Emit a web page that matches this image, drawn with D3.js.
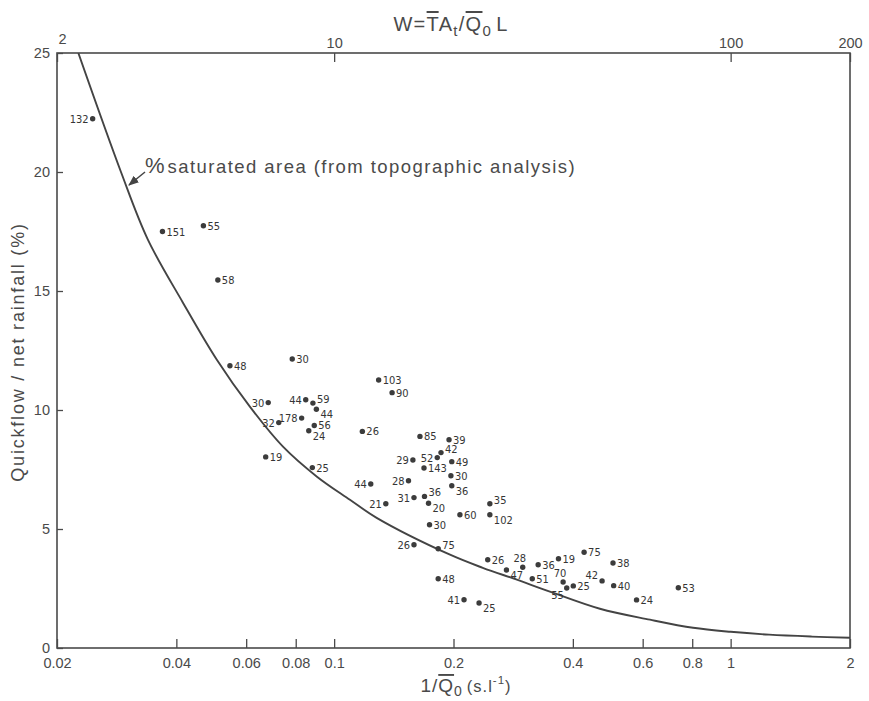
<!DOCTYPE html>
<html>
<head>
<meta charset="utf-8">
<script src="https://cdn.jsdelivr.net/npm/d3@7"></script>
<style>
  html, body { margin: 0; padding: 0; background: #fff; }
  svg { display: block; }
  .num { font-family: "Liberation Sans", Arial, Helvetica, sans-serif; fill: #4a4a4a; }
  .ptlab { font-family: "Liberation Sans Narrow", "DejaVu Sans Condensed", "Liberation Sans", sans-serif; font-stretch: condensed; fill: #353535; font-size: 11px; }
</style>
</head>
<body>
<svg id="chart" width="869" height="701"></svg>
<script>
// Catchment observations: 1/Q0 (s.l^-1), quickflow as % of net rainfall, and the number printed beside each dot
const invQ0 = [0.0246, 0.0369, 0.0468, 0.0509, 0.0546, 0.0784, 0.1295, 0.140, 0.0682, 0.0848,
               0.0884, 0.0902, 0.0828, 0.0725, 0.0891, 0.0863, 0.1178, 0.0672, 0.0881, 0.1646,
               0.1949, 0.186, 0.158, 0.182, 0.198, 0.1685, 0.197, 0.1237, 0.154, 0.198,
               0.135, 0.159, 0.169, 0.173, 0.2076, 0.247, 0.247, 0.174, 0.159, 0.183,
               0.244, 0.299, 0.272, 0.327, 0.316, 0.368, 0.427, 0.505, 0.378, 0.386,
               0.401, 0.474, 0.507, 0.579, 0.738, 0.183, 0.2126, 0.232];
const quickflowPct = [22.24, 17.50, 17.74, 15.46, 11.86, 12.14, 11.26, 10.73, 10.31, 10.43,
                      10.29, 10.03, 9.66, 9.47, 9.35, 9.13, 9.10, 8.03, 7.58, 8.89,
                      8.75, 8.21, 7.90, 8.00, 7.83, 7.56, 7.24, 6.89, 7.03, 6.82,
                      6.06, 6.32, 6.37, 6.08, 5.60, 6.06, 5.60, 5.18, 4.34, 4.17,
                      3.71, 3.39, 3.28, 3.50, 2.91, 3.75, 4.02, 3.57, 2.77, 2.52,
                      2.61, 2.82, 2.62, 2.02, 2.53, 2.91, 2.03, 1.89];
const pointLabels = ["132", "151", "55", "58", "48", "30", "103", "90", "30", "44",
                     "59", "44", "178", "32", "56", "24", "26", "19", "25", "85",
                     "39", "42", "29", "52", "49", "143", "30", "44", "28", "36",
                     "21", "31", "36", "20", "60", "35", "102", "30", "26", "75",
                     "26", "28", "47", "36", "51", "19", "75", "38", "70", "55",
                     "25", "42", "40", "24", "53", "48", "41", "25"];

// Saturated-area curve from topographic analysis
const curveInvQ0 = [0.02264, 0.0290, 0.0339, 0.04156, 0.0506, 0.0613, 0.0743, 0.0905, 0.1096, 0.128,
                    0.196, 0.237, 0.289, 0.350, 0.468, 0.626, 0.804, 1.0, 1.25, 1.6, 2.0];
const curvePct = [25.0, 20.0, 17.16, 14.51, 12.11, 10.14, 8.46, 7.20, 6.23, 5.47,
                  3.92, 3.37, 2.87, 2.37, 1.65, 1.19, 0.85, 0.68, 0.56, 0.48, 0.43];

// Axis ticks
const bottomTicks = [0.02, 0.04, 0.06, 0.08, 0.1, 0.2, 0.4, 0.6, 0.8, 1, 2];
const bottomTickText = ["0.02", "0.04", "0.06", "0.08", "0.1", "0.2", "0.4", "0.6", "0.8", "1", "2"];
const topTicks = [2, 10, 100, 200];
const leftTicks = [0, 5, 10, 15, 20, 25];

// Where each point's number sits relative to its dot
const labelPlacement = ["l", "r", "r", "r", "r", "r", "r", "r", "l", "l",
                        "ru", "rd", "l", "l", "r", "rd", "r", "r", "r", "r",
                        "r", "ru", "l", "l", "r", "r", "r", "l", "l", "rd",
                        "l", "l", "ru", "rd", "r", "ru", "rd", "r", "l", "ru",
                        "r", "a", "rd", "r", "r", "r", "r", "r", "a", "bl",
                        "r", "lu", "r", "r", "r", "r", "l", "rd"];

const svg = d3.select("#chart");
const plotL = 57, plotR = 850, plotT = 53, plotB = 648;
const ink = "#4a4a4a";

const x = d3.scaleLog().domain([0.02, 2]).range([plotL, plotR]);
const w = d3.scaleLog().domain([2, 200]).range([plotL, plotR]);
const y = d3.scaleLinear().domain([0, 25]).range([plotB, plotT]);

// Bottom axis (ticks point into the plot)
const gx = svg.append("g").attr("transform", `translate(0,${plotB})`)
  .call(d3.axisBottom(x).tickValues(bottomTicks)
    .tickFormat((d, i) => bottomTickText[i])
    .tickSizeInner(-9).tickSizeOuter(0).tickPadding(10));
gx.select(".domain").remove();
gx.selectAll(".tick line").attr("stroke", ink).attr("stroke-width", 1.3);
gx.selectAll(".tick text").attr("class", "num").attr("font-size", 14.5);

// Top axis in W units
const gt = svg.append("g").attr("transform", `translate(0,${plotT})`)
  .call(d3.axisTop(w).tickValues(topTicks).tickFormat(d3.format("d"))
    .tickSizeInner(-9).tickSizeOuter(0).tickPadding(5));
gt.select(".domain").remove();
gt.selectAll(".tick line").attr("stroke", ink).attr("stroke-width", 1.3);
gt.selectAll(".tick text").attr("class", "num").attr("font-size", 14.5);
gt.selectAll(".tick").filter(d => d === 2).select("text").attr("x", 5).attr("y", -9);

// Left axis
const gy = svg.append("g").attr("transform", `translate(${plotL},0)`)
  .call(d3.axisLeft(y).tickValues(leftTicks).tickFormat(d3.format("d"))
    .tickSizeInner(-6).tickSizeOuter(0).tickPadding(7));
gy.select(".domain").remove();
gy.selectAll(".tick line").attr("stroke", ink).attr("stroke-width", 1.3);
gy.selectAll(".tick text").attr("class", "num").attr("font-size", 14.5);

// Plot frame
svg.append("rect").attr("x", plotL).attr("y", plotT)
  .attr("width", plotR - plotL).attr("height", plotB - plotT)
  .attr("fill", "none").attr("stroke", ink).attr("stroke-width", 1.6);

// Clip for the curve
svg.append("clipPath").attr("id", "plotclip").append("rect")
  .attr("x", plotL).attr("y", plotT).attr("width", plotR - plotL).attr("height", plotB - plotT);

const curvePts = curveInvQ0.map((d, i) => [x(d), y(curvePct[i])]);
svg.append("path")
  .attr("clip-path", "url(#plotclip)")
  .attr("d", d3.line().curve(d3.curveCatmullRom.alpha(0.5))(curvePts))
  .attr("fill", "none").attr("stroke", "#444").attr("stroke-width", 1.9);

// Points and their numbers
const pts = invQ0.map((d, i) => ({ px: x(d), py: y(quickflowPct[i]), text: pointLabels[i], pos: labelPlacement[i] }));
svg.append("g").selectAll("circle").data(pts).join("circle")
  .attr("cx", d => d.px).attr("cy", d => d.py).attr("r", 2.7).attr("fill", "#3c3c3c");

const offsets = {
  r:  { dx: 4,  dy: 4,  anchor: "start" },
  ru: { dx: 4,  dy: 0,  anchor: "start" },
  rd: { dx: 4,  dy: 9,  anchor: "start" },
  l:  { dx: -4, dy: 4,  anchor: "end" },
  lu: { dx: -4, dy: -2, anchor: "end" },
  a:  { dx: -3, dy: -5, anchor: "middle" },
  bl: { dx: -3, dy: 11, anchor: "end" }
};
svg.append("g").selectAll("text").data(pts).join("text")
  .attr("class", "ptlab")
  .attr("x", d => d.px + offsets[d.pos].dx)
  .attr("y", d => d.py + offsets[d.pos].dy)
  .attr("text-anchor", d => offsets[d.pos].anchor)
  .text(d => d.text);

// Curve annotation with arrow
svg.append("defs").append("marker").attr("id", "arrowhead")
  .attr("viewBox", "0 0 10 10").attr("refX", 9).attr("refY", 5)
  .attr("markerWidth", 7).attr("markerHeight", 7).attr("orient", "auto")
  .append("path").attr("d", "M0,1 L10,5 L0,9 Z").attr("fill", "#444");
svg.append("line").attr("x1", 145).attr("y1", 172).attr("x2", 129).attr("y2", 185)
  .attr("stroke", "#444").attr("stroke-width", 1.5).attr("marker-end", "url(#arrowhead)");
const ann = svg.append("text").attr("class", "num").attr("x", 145).attr("y", 173)
  .attr("font-size", 18.5).attr("letter-spacing", 1.45).attr("fill", "#444");
ann.append("tspan").attr("font-size", 22).attr("letter-spacing", 0).text("%");
ann.append("tspan").attr("dx", 3).text("saturated area (from topographic analysis)");

// Axis titles
const ttl = svg.append("text").attr("class", "num").attr("x", 451).attr("y", 31)
  .attr("text-anchor", "middle").attr("font-size", 20).attr("letter-spacing", 1.3).attr("fill", "#444");
ttl.append("tspan").text("W=");
ttl.append("tspan").style("text-decoration", "overline").text("T");
ttl.append("tspan").text("A");
ttl.append("tspan").attr("dy", 5).attr("font-size", 15).text("t");
ttl.append("tspan").attr("dy", -5).text("/");
ttl.append("tspan").style("text-decoration", "overline").text("Q");
ttl.append("tspan").attr("dy", 5).attr("font-size", 15).text("0");
ttl.append("tspan").attr("dy", -5).attr("dx", 4).text("L");

const xt = svg.append("text").attr("class", "num").attr("x", 466).attr("y", 692)
  .attr("text-anchor", "middle").attr("font-size", 19).attr("letter-spacing", 1).attr("fill", "#444");
xt.append("tspan").text("1/");
xt.append("tspan").style("text-decoration", "overline").text("Q");
xt.append("tspan").attr("dy", 4).attr("font-size", 14).text("0");
xt.append("tspan").attr("dy", -4).attr("dx", 4).attr("font-size", 16.5).text("(s.l");
xt.append("tspan").attr("dy", -8).attr("font-size", 11.5).text("-1");
xt.append("tspan").attr("dy", 8).attr("font-size", 16.5).text(")");

svg.append("text").attr("class", "num")
  .attr("transform", "translate(24,352) rotate(-90)")
  .attr("text-anchor", "middle").attr("font-size", 18).attr("letter-spacing", 1.8).attr("fill", "#444")
  .text("Quickflow / net rainfall (%)");
</script>
</body>
</html>
